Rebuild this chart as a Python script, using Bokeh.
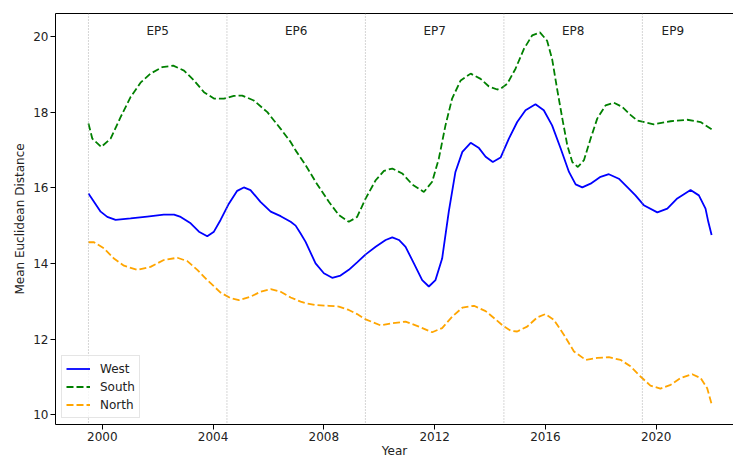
from bokeh.plotting import figure
from bokeh.models import (Range1d, FixedTicker, Span, Legend, LegendItem,
                          LinearAxis, ColumnDataSource)
from bokeh.core.properties import value
from bokeh.embed import file_html
from bokeh.resources import INLINE

FONT = "DejaVu Sans"

# ---------------- data ----------------
west_x = [1999.5, 1999.94, 2000.18, 2000.48, 2001.02, 2001.62, 2002.22, 2002.59, 2002.83,
          2003.19, 2003.49, 2003.79, 2004.03, 2004.27, 2004.57, 2004.87, 2005.11, 2005.35,
          2005.71, 2006.08, 2006.44, 2006.80, 2006.98, 2007.16, 2007.34, 2007.70, 2008.00,
          2008.30, 2008.60, 2008.90, 2009.20, 2009.51, 2009.87, 2010.23, 2010.47, 2010.71,
          2010.95, 2011.25, 2011.55, 2011.79, 2012.03, 2012.27, 2012.51, 2012.75, 2013.00,
          2013.30, 2013.60, 2013.84, 2014.10, 2014.38, 2014.68, 2014.98, 2015.28, 2015.64,
          2015.94, 2016.24, 2016.55, 2016.85, 2017.09, 2017.33, 2017.63, 2017.99, 2018.29,
          2018.65, 2019.01, 2019.25, 2019.55, 2020.04, 2020.40, 2020.76, 2021.24, 2021.54,
          2021.78, 2021.88, 2022.0]
west_y = [15.85, 15.37, 15.23, 15.15, 15.19, 15.24, 15.29, 15.29, 15.23,
          15.06, 14.84, 14.72, 14.84, 15.15, 15.58, 15.92, 16.01, 15.94,
          15.63, 15.37, 15.25, 15.10, 15.00, 14.79, 14.57, 14.00, 13.74,
          13.62, 13.68, 13.83, 14.03, 14.24, 14.44, 14.62, 14.69, 14.62,
          14.44, 14.00, 13.56, 13.39, 13.56, 14.13, 15.37, 16.42, 16.95,
          17.19, 17.05, 16.82, 16.68, 16.80, 17.30, 17.74, 18.05, 18.21,
          18.05, 17.65, 17.04, 16.42, 16.09, 16.01, 16.11, 16.29, 16.36,
          16.24, 15.98, 15.80, 15.54, 15.35, 15.45, 15.72, 15.94, 15.80,
          15.45, 15.10, 14.75]

south_x = [1999.5, 1999.64, 1999.96, 2000.30, 2000.66, 2001.02, 2001.38, 2001.74, 2002.16,
           2002.56, 2002.95, 2003.31, 2003.67, 2004.03, 2004.39, 2004.75, 2005.05, 2005.47,
           2005.96, 2006.44, 2006.80, 2006.98, 2007.34, 2007.70, 2008.18, 2008.54, 2008.90,
           2009.20, 2009.51, 2009.87, 2010.17, 2010.47, 2010.83, 2011.19, 2011.61, 2011.91,
           2012.15, 2012.39, 2012.63, 2012.94, 2013.30, 2013.66, 2013.96, 2014.26, 2014.38,
           2014.62, 2014.92, 2015.22, 2015.52, 2015.80, 2016.06, 2016.24, 2016.42, 2016.61,
           2016.79, 2016.97, 2017.17, 2017.39, 2017.63, 2017.87, 2018.17, 2018.47, 2018.77,
           2019.07, 2019.31, 2019.91, 2020.52, 2021.12, 2021.60, 2022.0]
south_y = [17.70, 17.30, 17.08, 17.30, 17.87, 18.40, 18.78, 19.02, 19.19,
           19.23, 19.10, 18.84, 18.53, 18.36, 18.36, 18.43, 18.44, 18.31,
           18.00, 17.56, 17.21, 16.99, 16.60, 16.16, 15.63, 15.28, 15.10,
           15.23, 15.72, 16.20, 16.45, 16.51, 16.38, 16.09, 15.89, 16.16,
           16.77, 17.65, 18.36, 18.84, 19.02, 18.88, 18.68, 18.60, 18.62,
           18.75, 19.15, 19.67, 20.03, 20.11, 19.89, 19.41, 18.62, 17.83,
           17.12, 16.68, 16.55, 16.73, 17.30, 17.83, 18.18, 18.25, 18.14,
           17.93, 17.78, 17.68, 17.76, 17.80, 17.74, 17.55]

north_x = [1999.5, 1999.70, 2000.06, 2000.42, 2000.78, 2001.26, 2001.74, 2002.22, 2002.71,
           2003.07, 2003.43, 2003.79, 2004.27, 2004.63, 2004.93, 2005.35, 2005.71, 2006.08,
           2006.44, 2006.80, 2007.16, 2007.34, 2007.70, 2008.18, 2008.54, 2008.90, 2009.20,
           2009.51, 2010.05, 2010.47, 2010.95, 2011.43, 2011.91, 2012.27, 2012.63, 2013.00,
           2013.42, 2013.84, 2014.20, 2014.44, 2014.74, 2014.98, 2015.34, 2015.70, 2016.00,
           2016.30, 2016.67, 2017.03, 2017.45, 2017.87, 2018.29, 2018.71, 2019.07, 2019.43,
           2019.79, 2020.15, 2020.52, 2020.88, 2021.30, 2021.60, 2021.84, 2022.0]
north_y = [14.56, 14.56, 14.40, 14.13, 13.94, 13.83, 13.91, 14.09, 14.15,
           14.06, 13.83, 13.56, 13.23, 13.08, 13.03, 13.12, 13.25, 13.32,
           13.25, 13.10, 12.99, 12.95, 12.90, 12.88, 12.86, 12.77, 12.66,
           12.52, 12.36, 12.42, 12.46, 12.33, 12.18, 12.29, 12.59, 12.83,
           12.88, 12.74, 12.52, 12.37, 12.22, 12.20, 12.33, 12.57, 12.66,
           12.51, 12.11, 11.67, 11.45, 11.50, 11.52, 11.45, 11.28, 11.01,
           10.77, 10.69, 10.79, 10.97, 11.07, 10.97, 10.70, 10.28]

era_bounds = [1999.5, 2004.5, 2009.5, 2014.5, 2019.5]
era_labels = ["EP5", "EP6", "EP7", "EP8", "EP9"]
era_label_x = [2002.0, 2007.0, 2012.0, 2017.0, 2020.6]
era_label_y = [20.16, 20.16, 20.16, 20.16, 20.16]

x_ticks = [2000, 2004, 2008, 2012, 2016, 2020]
y_ticks = [10, 12, 14, 16, 18, 20]

# ---------------- figure ----------------
p = figure(width=733, height=460, output_backend="svg", toolbar_location=None,
           x_range=Range1d(1998.31, 2022.79), y_range=Range1d(9.74, 20.61),
           min_border_left=55, min_border_right=0, min_border_top=13,
           min_border_bottom=35)
p.outline_line_color = None
p.background_fill_color = "white"
p.border_fill_color = "white"
p.xgrid.grid_line_color = None
p.ygrid.grid_line_color = None

for ax in (p.xaxis[0], p.yaxis[0]):
    ax.major_tick_in = 0
    ax.major_tick_out = 5
    ax.minor_tick_line_color = None
    ax.major_tick_line_color = "black"
    ax.axis_line_color = "black"
    ax.major_label_text_font = FONT
    ax.major_label_text_font_size = "12px"
    ax.major_label_text_color = "#222222"
    ax.axis_label_text_font = FONT
    ax.axis_label_text_font_size = "12px"
    ax.axis_label_text_font_style = "normal"
    ax.axis_label_text_color = "#222222"
    ax.major_label_standoff = 2
    ax.axis_label_standoff = 3

p.xaxis[0].ticker = FixedTicker(ticks=x_ticks)
p.yaxis[0].ticker = FixedTicker(ticks=y_ticks)
p.xaxis[0].axis_label = "Year"
p.xaxis[0].axis_label_standoff = 0
p.yaxis[0].axis_label = "Mean Euclidean Distance"

top = LinearAxis(ticker=FixedTicker(ticks=[]), major_tick_out=0, major_tick_in=0,
                 minor_tick_out=0, minor_tick_in=0, major_label_standoff=0,
                 axis_line_color="black")
p.add_layout(top, "above")

for b in era_bounds:
    p.add_layout(Span(location=b, dimension="height", line_color="#999999",
                      line_alpha=0.8, line_width=1, line_dash="1 2"))

src = ColumnDataSource(dict(x=era_label_x, y=era_label_y, t=era_labels))
p.text(x="x", y="y", text="t", source=src, text_align="center",
       text_baseline="middle", text_font=value(FONT), text_font_size="12px",
       text_color="#222222")

r_w = p.line(west_x, west_y, line_color="blue", line_width=1.8)
r_s = p.line(south_x, south_y, line_color="green", line_width=1.8, line_dash="7 3")
r_n = p.line(north_x, north_y, line_color="orange", line_width=1.8, line_dash="7 3")

legend = Legend(items=[LegendItem(label="West", renderers=[r_w]),
                       LegendItem(label="South", renderers=[r_s]),
                       LegendItem(label="North", renderers=[r_n])],
                location="bottom_left", margin=6, padding=4, spacing=1,
                glyph_width=24, glyph_height=17, label_height=17,
                label_standoff=10,
                label_text_font=FONT, label_text_font_size="12px",
                label_text_color="#222222",
                border_line_color="#cccccc", border_line_width=1,
                background_fill_color="white", background_fill_alpha=0.8)
p.add_layout(legend, "center")

open("out.html", "w").write(file_html(p, INLINE))
